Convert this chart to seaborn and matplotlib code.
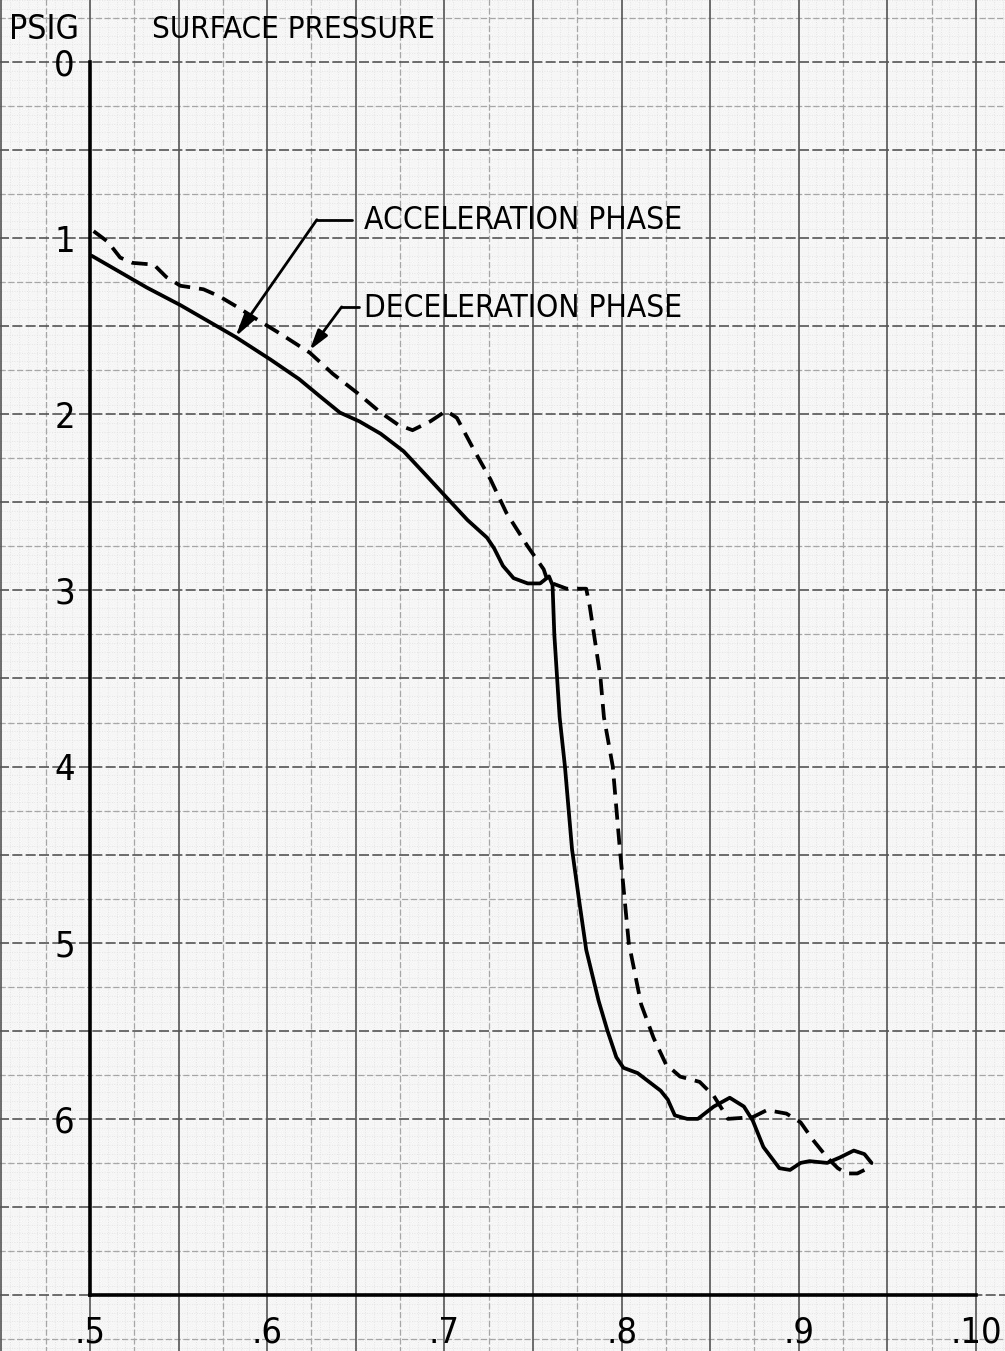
import numpy as np
import pandas as pd
import seaborn as sns
import matplotlib.pyplot as plt
from matplotlib import font_manager


'''
Surface pressure (PSIG) vs. position, acceleration and deceleration phase
'''

ACC_X = [0.501, 0.532, 0.551, 0.582, 0.602, 0.618, 0.630, 0.641, 0.652, 0.664,
         0.677, 0.690, 0.701, 0.713, 0.724, 0.728, 0.733, 0.739, 0.747, 0.754,
         0.759, 0.761, 0.762, 0.765, 0.768, 0.772, 0.776, 0.780, 0.787, 0.792,
         0.797, 0.801, 0.809, 0.822, 0.826, 0.830, 0.837, 0.843, 0.852, 0.861,
         0.869, 0.874, 0.880, 0.889, 0.895, 0.901, 0.906, 0.916, 0.923, 0.931,
         0.937, 0.941]
ACC_Y = [1.10, 1.28, 1.38, 1.56, 1.69, 1.80, 1.90, 1.99, 2.04, 2.11,
         2.21, 2.35, 2.47, 2.60, 2.70, 2.76, 2.86, 2.93, 2.96, 2.96,
         2.92, 2.97, 3.25, 3.72, 4.00, 4.47, 4.76, 5.04, 5.33, 5.50,
         5.65, 5.71, 5.74, 5.84, 5.89, 5.98, 6.00, 6.00, 5.93, 5.88,
         5.93, 6.01, 6.16, 6.28, 6.29, 6.25, 6.24, 6.25, 6.22, 6.18,
         6.20, 6.25]

DEC_X = [0.502, 0.510, 0.517, 0.524, 0.536, 0.543, 0.551, 0.564, 0.573, 0.583,
         0.594, 0.607, 0.624, 0.637, 0.651, 0.664, 0.674, 0.682, 0.692, 0.701,
         0.707, 0.716, 0.726, 0.735, 0.747, 0.756, 0.758, 0.761, 0.769, 0.780,
         0.782, 0.788, 0.790, 0.795, 0.799, 0.804, 0.811, 0.818, 0.825, 0.833,
         0.844, 0.852, 0.857, 0.860, 0.874, 0.882, 0.893, 0.901, 0.908, 0.916,
         0.922, 0.927, 0.933, 0.937, 0.941]
DEC_Y = [0.96, 1.02, 1.11, 1.14, 1.15, 1.22, 1.27, 1.29, 1.33, 1.39,
         1.46, 1.54, 1.65, 1.77, 1.88, 1.99, 2.06, 2.09, 2.04, 1.98,
         2.02, 2.19, 2.37, 2.56, 2.75, 2.88, 2.94, 2.96, 2.99, 2.99,
         3.09, 3.49, 3.72, 4.00, 4.47, 5.00, 5.35, 5.54, 5.69, 5.76,
         5.79, 5.87, 5.95, 6.00, 5.99, 5.95, 5.97, 6.02, 6.12, 6.22,
         6.28, 6.31, 6.31, 6.29, 6.25]

Y_TICKS        = [0, 1, 2, 3, 4, 5, 6]
X_TICKS        = [0.5, 0.6, 0.7, 0.8, 0.9, 1.0]
X_TICK_LABELS  = ['.5', '.6', '.7', '.8', '.9', '.10']


'''
narrowest font we can find: lettering on the original is condensed
'''
fonts = font_manager.fontManager.ttflist
names = {f.name for f in fonts}
STRETCH = 'normal'
if 'Liberation Sans Narrow' in names:
    FONT = 'Liberation Sans Narrow'
elif any(f.name == 'DejaVu Sans' and f.stretch == 'condensed' for f in fonts):
    FONT = 'DejaVu Sans'
    STRETCH = 'condensed'
elif 'Roboto' in names:
    FONT = 'Roboto'
else:
    FONT = 'DejaVu Sans'

sns.set_style('white')
plt.rcParams['font.family'] = [FONT, 'DejaVu Sans']
plt.rcParams['font.stretch'] = STRETCH
plt.rcParams['text.color'] = 'black'
plt.rcParams['xtick.color'] = 'black'
plt.rcParams['ytick.color'] = 'black'

df = pd.concat([
    pd.DataFrame({'x': ACC_X, 'y': ACC_Y, 'phase': 'ACCELERATION'}),
    pd.DataFrame({'x': DEC_X, 'y': DEC_Y, 'phase': 'DECELERATION'}),
], ignore_index=True)


fig = plt.figure(figsize=(10.05, 13.51), dpi=100, facecolor='#f6f6f6')
renderer = fig.canvas.get_renderer()


def fit_width(t, target_px):
    # shrink/grow the font until the text is as wide as on the scan
    for _ in range(3):
        w = t.get_window_extent(renderer).width
        t.set_fontsize(t.get_fontsize() * target_px / w)


'''
graph paper in the background, same scale as the chart
'''
bg = fig.add_axes([0, 0, 1, 1], zorder=0)
bg.set_facecolor('#f6f6f6')
bg.set_xlim(0.4492, 1.0164)
bg.set_ylim(7.318, -0.352)
bg.axis('off')

fine_x = np.arange(0.33, 1.1, 0.005)
fine_y = np.arange(-1.0, 8.0, 0.05)
bg.vlines(fine_x, -1, 8, color='#e0e0e0', lw=0.6, linestyles=(0, (1, 2)))
bg.hlines(fine_y, 0.3, 1.1, color='#e0e0e0', lw=0.6, linestyles=(0, (1, 2)))
mid_x = np.arange(0.325, 1.1, 0.05)
mid_y = np.arange(-0.75, 8.0, 0.5)
bg.vlines(mid_x, -1, 8, color='#a6a6a6', lw=0.9, linestyles=(0, (5, 2)))
bg.hlines(mid_y, 0.3, 1.1, color='#a6a6a6', lw=0.9, linestyles=(0, (5, 2)))
maj_x = np.arange(0.35, 1.1, 0.05)
maj_y = np.arange(-0.5, 8.0, 0.5)
bg.vlines(maj_x, -1, 8, color='#555555', lw=1.2)
bg.hlines(maj_y, 0.3, 1.1, color='#555555', lw=1.2, linestyles=(0, (6, 2)))


'''
the chart itself
'''
ax = fig.add_axes([0.0896, 0.04145, 0.8816, 0.9126], zorder=1)
ax.patch.set_alpha(0)

sns.lineplot(data=df, x='x', y='y', hue='phase', style='phase',
             palette={'ACCELERATION': 'black', 'DECELERATION': 'black'},
             dashes={'ACCELERATION': '', 'DECELERATION': (4.3, 2.4)},
             sort=False, estimator=None, legend=False, lw=2.7, ax=ax)

ax.set_xlim(0.5, 1.0)
ax.set_ylim(7, 0)
ax.set_xlabel('')
ax.set_ylabel('')

for s in ['top', 'right']:
    ax.spines[s].set_visible(False)
for s in ['left', 'bottom']:
    ax.spines[s].set_linewidth(2.6)
    ax.spines[s].set_color('black')

ax.set_yticks(Y_TICKS)
ax.set_yticklabels([str(v) for v in Y_TICKS])
ax.set_xticks(X_TICKS)
ax.set_xticklabels(X_TICK_LABELS)
ax.tick_params(axis='both', length=8, width=2, color='black', labelsize=26, pad=3)
ax.tick_params(axis='x', pad=7)


'''
leader lines and labels
'''
ax.plot([0.628, 0.648], [0.895, 0.895], color='black', lw=2)
ax.annotate('', xy=(0.582, 1.56), xytext=(0.628, 0.895),
            arrowprops=dict(arrowstyle='-|>,head_length=1.4,head_width=0.35',
                            color='black', lw=2, shrinkA=0, shrinkB=0))
t_acc = ax.text(0.6545, 0.90, 'ACCELERATION PHASE', fontsize=25, va='center', ha='left')

ax.plot([0.642, 0.652], [1.39, 1.39], color='black', lw=2)
ax.annotate('', xy=(0.624, 1.635), xytext=(0.642, 1.39),
            arrowprops=dict(arrowstyle='-|>,head_length=1.2,head_width=0.35',
                            color='black', lw=2, shrinkA=0, shrinkB=0))
t_dec = ax.text(0.6545, 1.40, 'DECELERATION PHASE', fontsize=25, va='center', ha='left')

t_psig = fig.text(0.009, 0.978, 'PSIG', fontsize=24, va='center', ha='left')
t_surf = fig.text(0.151, 0.978, 'SURFACE PRESSURE', fontsize=24, va='center', ha='left')

fit_width(t_acc, 318)
fit_width(t_dec, 318)
fit_width(t_psig, 70)
fit_width(t_surf, 282)

fig.savefig('out.png', dpi=100, facecolor=fig.get_facecolor())
